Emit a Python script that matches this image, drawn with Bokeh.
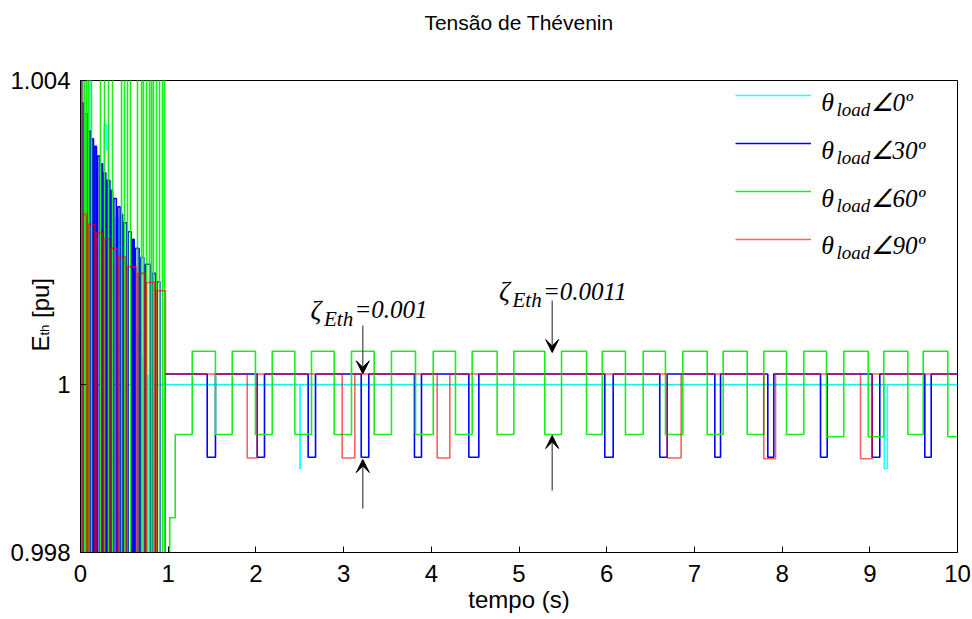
from bokeh.plotting import figure
from bokeh.models import (Range1d, FixedTicker, Label, Arrow, VeeHead, Legend,
                          LegendItem, Span, ColumnDataSource)
from bokeh.core.properties import value
from bokeh.embed import file_html
from bokeh.resources import INLINE
from math import pi

# ---------------- data ----------------
x_ticks = [0, 1, 2, 3, 4, 5, 6, 7, 8, 9, 10]
y_tick_values = [0.99778, 1.0, 1.00402]
y_tick_labels = ["0.998", "1", "1.004"]
series_labels = ["0º", "30º", "60º", "90º"]

# theta_load = 0 deg (cyan)
t_c = [0.000, 0.030, 0.075, 0.105, 0.270, 0.300, 0.320, 0.400, 0.430, 0.500,
       0.530, 0.600, 0.650, 0.700, 0.740, 0.770, 0.800, 0.830, 2.502, 2.508,
       9.165, 9.200, 10.0]
v_c = [1.0046, 0.9975, 1.0046, 0.9975, 1.00343, 1.00310, 0.9975, 1.00220, 0.9975, 1.00140,
       0.9975, 1.00067, 0.9975, 1.00036, 0.9975, 1.00012, 0.9975, 1.00000, 0.99889, 1.00000,
       0.99889, 1.00000, 1.00000]

# theta_load = 30 deg (blue)
t_b = [0.000, 0.012, 0.018, 0.040, 0.048, 0.080, 0.095, 0.118, 0.133, 0.148,
       0.163, 0.182, 0.197, 0.222, 0.239, 0.252, 0.266, 0.288, 0.304, 0.335,
       0.353, 0.366, 0.380, 0.408, 0.425, 0.452, 0.467, 0.480, 0.494, 0.526,
       0.544, 0.578, 0.596, 0.612, 0.627, 0.668, 0.688, 0.722, 0.741, 0.798,
       0.818, 0.855, 0.875, 0.905, 0.962,
       1.445, 1.539, 2.015, 2.098, 2.596, 2.680, 3.201, 3.287, 3.808, 3.888,
       4.428, 4.542, 5.978, 6.074, 6.605, 6.690, 7.233, 7.298, 7.837, 7.905,
       8.438, 8.514, 9.027, 9.114, 9.627, 9.700, 10.0]
v_b = [1.0046, 0.9975, 1.00372, 0.9975, 1.00358, 0.9975, 1.00335, 0.9975, 1.00325, 0.9975,
       1.00315, 0.9975, 1.00302, 0.9975, 1.00292, 0.9975, 1.00280, 0.9975, 1.00270, 0.9975,
       1.00257, 0.9975, 1.00246, 0.9975, 1.00235, 0.9975, 1.00225, 0.9975, 1.00214, 0.9975,
       1.00202, 0.9975, 1.00192, 0.9975, 1.00180, 0.9975, 1.00168, 0.9975, 1.00159, 0.9975,
       1.00147, 0.9975, 1.00136, 0.9975, 1.00014,
       0.99904, 1.00014, 0.99904, 1.00014, 0.99904, 1.00014, 0.99904, 1.00014, 0.99904, 1.00014,
       0.99904, 1.00014, 0.99904, 1.00014, 0.99904, 1.00014, 0.99904, 1.00014, 0.99904, 1.00014,
       0.99904, 1.00014, 0.99904, 1.00014, 0.99904, 1.00014, 1.00014]

# theta_load = 60 deg (green)
t_g = [0.000, 0.011, 0.046, 0.068, 0.091, 0.125, 0.228, 0.274, 0.319, 0.365,
       0.468, 0.502, 0.536, 0.570, 0.650, 0.696, 0.718, 0.753, 0.787, 0.810,
       0.832, 0.867, 0.901, 0.935, 0.958,
       1.017, 1.080, 1.274, 1.539, 1.730, 1.995, 2.186, 2.444, 2.634, 2.893,
       3.090, 3.349, 3.546, 3.820, 4.022, 4.276, 4.466, 4.751, 4.941, 5.294,
       5.485, 5.770, 5.949, 6.214, 6.416, 6.670, 6.868, 7.146, 7.328, 7.602,
       7.791, 8.050, 8.247, 8.506, 8.703, 8.982, 9.159, 9.433, 9.609, 9.889, 10.0]
v_g = [0.9975, 1.0046, 0.9975, 1.0046, 0.9975, 1.0046, 0.9975, 1.0046, 0.9975, 1.0046,
       0.9975, 1.0046, 0.9975, 1.0046, 0.9975, 1.0046, 0.9975, 1.0046, 0.9975, 1.0046,
       0.9975, 1.0046, 0.9975, 1.0046, 0.9975,
       0.99824, 0.99934, 1.00044, 0.99934, 1.00044, 0.99934, 1.00044, 0.99934, 1.00044, 0.99934,
       1.00044, 0.99934, 1.00044, 0.99934, 1.00044, 0.99934, 1.00044, 0.99934, 1.00044, 0.99934,
       1.00044, 0.99934, 1.00044, 0.99934, 1.00044, 0.99934, 1.00044, 0.99934, 1.00044, 0.99934,
       1.00044, 0.99934, 1.00044, 0.99931, 1.00044, 0.99931, 1.00044, 0.99934, 1.00044, 0.99931, 0.99931]

# theta_load = 90 deg (red)
t_r = [0.000, 0.015, 0.026, 0.070, 0.088, 0.160, 0.179, 0.248, 0.266, 0.332,
       0.350, 0.419, 0.437, 0.514, 0.533, 0.634, 0.653, 0.734, 0.753, 0.848,
       0.867, 0.969,
       1.901, 2.015, 2.984, 3.128, 4.067, 4.211, 6.690, 6.849, 7.791, 7.925,
       8.894, 9.027, 10.0]
v_r = [1.0046, 0.9975, 1.00225, 0.9975, 1.00212, 0.9975, 1.00201, 0.9975, 1.00192, 0.9975,
       1.00180, 0.9975, 1.00169, 0.9975, 1.00156, 0.9975, 1.00147, 0.9975, 1.00135, 0.9975,
       1.00124, 1.00014,
       0.99903, 1.00014, 0.99903, 1.00014, 0.99903, 1.00014, 0.99903, 1.00014, 0.99902, 1.00014,
       0.99902, 1.00014, 1.00014]

# ---------------- layout ----------------
W, H = 972, 619
FL, FR, FT, FB = 80, 957, 80, 552
X0, X1 = 0.0, 10.0
Y0, Y1 = y_tick_values[0], y_tick_values[-1]


def dx(px):
    return X0 + (px - FL) * (X1 - X0) / (FR - FL)


def dy(py):
    return Y0 + (FB - py) * (Y1 - Y0) / (FB - FT)


p = figure(width=W, height=H, output_backend="svg", toolbar_location=None,
           x_range=Range1d(X0, X1), y_range=Range1d(Y0, Y1),
           min_border_left=FL, min_border_right=W - FR,
           min_border_top=FT, min_border_bottom=H - FB,
           background_fill_color="white", border_fill_color="white")
p.grid.visible = False
p.outline_line_color = "black"
p.outline_line_width = 1

for ax in (p.xaxis[0], p.yaxis[0]):
    ax.axis_line_color = "black"
    ax.major_tick_line_color = "black"
    ax.major_tick_in = 6
    ax.major_tick_out = 0
    ax.minor_tick_line_color = None
    ax.major_label_text_font = "Liberation Sans"
    ax.major_label_text_font_size = "24px"
    ax.major_label_text_color = "black"

p.xaxis.ticker = FixedTicker(ticks=x_ticks)
p.xaxis.major_label_standoff = 12
p.xaxis.axis_label = "tempo (s)"
p.xaxis.axis_label_text_font = "Liberation Sans"
p.xaxis.axis_label_text_font_style = "normal"
p.xaxis.axis_label_text_font_size = "24px"
p.xaxis.axis_label_text_color = "black"
p.xaxis.axis_label_standoff = 1

p.yaxis.ticker = FixedTicker(ticks=y_tick_values)
p.yaxis.major_label_overrides = dict(zip(y_tick_values, y_tick_labels))
p.yaxis.major_label_standoff = 10

# reference dotted line at 1 pu
p.add_layout(Span(location=1.0, dimension="width", line_color="black",
                  line_dash="1 2", line_width=1.2, level="underlay"))

src_c = ColumnDataSource(dict(t=t_c, v=v_c))
src_b = ColumnDataSource(dict(t=t_b, v=v_b))
src_g = ColumnDataSource(dict(t=t_g, v=v_g))
src_r = ColumnDataSource(dict(t=t_r, v=v_r))

lw = 1.6
r_c = p.step("t", "v", source=src_c, mode="after", line_color="#00ffff", line_width=lw, line_alpha=0.85)
r_b = p.step("t", "v", source=src_b, mode="after", line_color="#0000ff", line_width=lw)
r_g = p.step("t", "v", source=src_g, mode="after", line_color="#1aee1a", line_width=lw)
r_r = p.step("t", "v", source=src_r, mode="after", line_color="#ff0000", line_width=lw, line_alpha=0.62)

legend = Legend(items=[LegendItem(label=value(" "), renderers=[r]) for r in (r_c, r_b, r_g, r_r)],
                location=(655, 303), orientation="vertical",
                glyph_width=76, glyph_height=20, label_height=20, label_width=1,
                spacing=28, padding=0, margin=0,
                border_line_alpha=0, background_fill_alpha=0,
                label_text_font_size="1px")
p.add_layout(legend)

# legend texts: theta_load angle
leg_rows = [95.7, 143.4, 191.1, 238.8]
for yrow, lab in zip(leg_rows, series_labels):
    p.add_layout(Label(x=dx(820.7), y=dy(yrow + 6.5), text="θ", text_font="Liberation Serif",
                       text_font_style="italic", text_font_size="26px", text_color="black",
                       text_baseline="alphabetic"))
    p.add_layout(Label(x=dx(836.0), y=dy(yrow + 13.5), text="load", text_font="Liberation Serif",
                       text_font_style="italic", text_font_size="19px", text_color="black",
                       text_baseline="alphabetic"))
    p.add_layout(Label(x=dx(870.0), y=dy(yrow + 6.5), text="∠" + lab, text_font="Liberation Serif",
                       text_font_style="italic", text_font_size="25px", text_color="black",
                       text_baseline="alphabetic"))


# zeta annotations
def zeta(px, base_py, tail):
    p.add_layout(Label(x=dx(px), y=dy(base_py), text="ζ", text_font="Liberation Serif",
                       text_font_style="italic", text_font_size="27px", text_color="black",
                       text_baseline="alphabetic"))
    p.add_layout(Label(x=dx(px + 13.5), y=dy(base_py + 9), text="Eth", text_font="Liberation Serif",
                       text_font_style="italic", text_font_size="21px", text_color="black",
                       text_baseline="alphabetic"))
    p.add_layout(Label(x=dx(px + 44), y=dy(base_py), text=tail, text_font="Liberation Serif",
                       text_font_style="italic", text_font_size="25px", text_color="black",
                       text_baseline="alphabetic"))


zeta(310, 309, "=0.001")
zeta(498.5, 290.5, "=0.0011")


def arrow(px, py0, py1):
    p.add_layout(Arrow(end=VeeHead(size=13, fill_color="black", line_color="black"),
                       x_start=dx(px), y_start=dy(py0), x_end=dx(px), y_end=dy(py1),
                       line_color="#444444", line_width=1.2))


arrow(362.3, 325, 373.3)
arrow(362.3, 508, 459)
arrow(551.7, 300, 352)
arrow(551.7, 490, 435)

# title (hosted in the top border panel, drawn at its data position)
p.add_layout(Label(x=dx(518.5), y=dy(21.5), text="Tensão de Thévenin", text_font="Liberation Sans",
                   text_font_size="21px", text_color="black", text_align="center",
                   text_baseline="middle"), "above")

# y axis label E_th [pu]: rotated texts hosted in border panels with spare room
p.add_layout(Label(x=dx(40), y=dy(351), text="E", angle=pi / 2, text_font="Liberation Sans",
                   text_font_size="24px", text_color="black", text_baseline="alphabetic"), "above")
p.add_layout(Label(x=dx(40), y=dy(317.5), text="[pu]", angle=pi / 2, text_font="Liberation Sans",
                   text_font_size="24px", text_color="black", text_baseline="alphabetic"), "above")
p.add_layout(Label(x=dx(44), y=dy(335), text="th", angle=pi / 2, text_font="Liberation Sans",
                   text_font_size="13px", text_color="black", text_baseline="alphabetic"), "right")

open("out.html", "w").write(file_html(p, INLINE))
